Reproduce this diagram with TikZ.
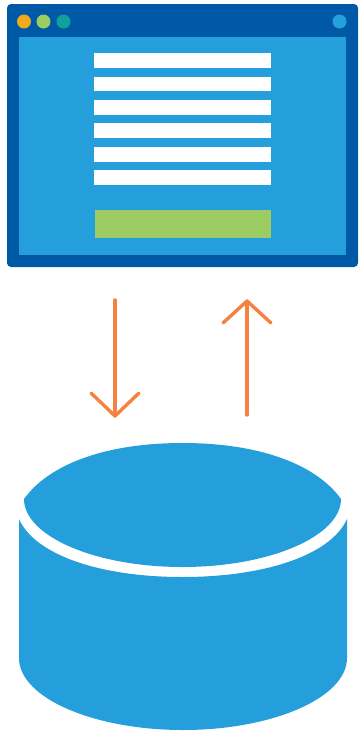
\documentclass[tikz,border=0pt]{standalone}
\definecolor{navy}{HTML}{0059A6}
\definecolor{sky}{HTML}{259FDC}
\definecolor{leaf}{HTML}{9CCB62}
\definecolor{amber}{HTML}{F0AB1C}
\definecolor{teal2}{HTML}{0FA19A}
\definecolor{flow}{HTML}{F58240}
\tikzset{
  formbar/.style={fill=white},
  dot/.style={circle,draw=none,minimum size=14pt,inner sep=0pt},
  flowline/.style={draw=flow,line width=3.4pt,line cap=round,line join=round}
}
\begin{document}
\begin{tikzpicture}[x=1pt,y=-1pt]
\useasboundingbox (0,0) rectangle (360,732);
\fill[white] (0,0) rectangle (360,732);
% window
\fill[navy,rounded corners=4pt] (7,4) rectangle (358,267);
\fill[sky] (19,37) rectangle (346,255);
\node[dot,fill=amber] (d1) at (24,21.5) {};
\node[dot,fill=leaf] (d2) at (43.5,21.5) {};
\node[dot,fill=teal2] (d3) at (63.5,21.5) {};
\node[dot,fill=sky] (d4) at (339.5,21.5) {};
\foreach \a/\b in {53/68,76.5/91,100/114.5,123/138,147/161.5,170/185}
  \fill[formbar] (94,\a) rectangle (271,\b);
\fill[leaf] (94.5,210) rectangle (271,238);
% arrows
\coordinate (dstart) at (115,300);
\coordinate (dend) at (115,416);
\coordinate (ustart) at (247,415);
\coordinate (uend) at (247,301);
\draw[flowline] (dstart) -- (dend);
\draw[flowline] (91,393) -- (dend) -- (139,393);
\draw[flowline] (ustart) -- (uend);
\draw[flowline] (223,323) -- (uend) -- (271,323);
% database
\fill[sky] (19,519) .. controls (35,555) and (100,577) .. (182.5,577)
  .. controls (265,577) and (331,555) .. (347,519)
  -- (347,658) .. controls (347,698) and (272,730) .. (183,730)
  .. controls (94,730) and (19,698) .. (19,658) -- cycle;
\fill[sky] (24,499) .. controls (50,463) and (108,443) .. (182.5,443)
  .. controls (257,443) and (315,463) .. (341,499)
  .. controls (341,536) and (270,567) .. (182.5,567)
  .. controls (95,567) and (24,536) .. (24,499) -- cycle;
\end{tikzpicture}
\end{document}
